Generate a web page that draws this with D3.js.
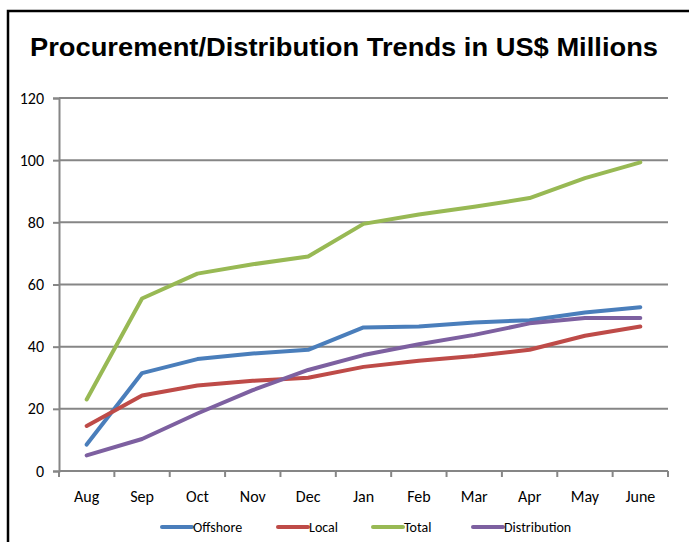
<!DOCTYPE html>
<html><head><meta charset="utf-8">
<script src="https://cdn.jsdelivr.net/npm/d3@7/dist/d3.min.js"></script>
<style>body{margin:0;background:#fff}</style>
</head><body><svg id="c" width="689" height="542"></svg>
<script>
const months = ["Aug","Sep","Oct","Nov","Dec","Jan","Feb","Mar","Apr","May","June"];
const offshore = [8.5,31.5,36,37.8,39,46.2,46.5,47.8,48.5,51,52.7];
const local = [14.5,24.3,27.5,29,30,33.5,35.5,37,39,43.5,46.5];
const total = [23,55.5,63.5,66.5,69,79.5,82.5,85,87.8,94.2,99.3];
const distribution = [5,10.3,18.5,26,32.5,37.3,40.8,43.8,47.5,49.2,49.2];
const yTicks = [0,20,40,60,80,100,120];
const seriesNames = ["Offshore","Local","Total","Distribution"];
const colors = ["#4a7ebb","#be4b48","#98b954","#7d60a0"];
const seriesData = [offshore, local, total, distribution];

const svg = d3.select("#c");
const FONT = "Carlito,Calibri,'Open Sans',sans-serif";
svg.append("path").attr("d","M8,542 V11 H689").attr("fill","none").attr("stroke","#000").attr("stroke-width",2.5);

svg.append("text").attr("x",30).attr("y",56)
  .attr("font-family","'Liberation Sans Narrow','Arial Narrow','Liberation Sans',Arial,sans-serif").attr("font-weight","bold")
  .attr("font-size",26).attr("fill","#000")
  .attr("textLength",628).attr("lengthAdjust","spacingAndGlyphs")
  .text("Procurement/Distribution Trends in US$ Millions");

const L=59,R=668,T=98,B=471;
const x = d3.scaleBand().domain(months).range([L,R]);
const y = d3.scaleLinear().domain([0,120]).range([B,T]);

svg.append("g").selectAll("line").data(yTicks.filter(d=>d>0)).join("line")
  .attr("x1",L).attr("x2",R).attr("y1",d=>y(d)).attr("y2",d=>y(d))
  .attr("stroke","#868686").attr("stroke-width",2);

const ya = svg.append("g").attr("transform",`translate(${L},0)`)
  .call(d3.axisLeft(y).tickValues(yTicks).tickSize(6).tickPadding(9));
ya.attr("font-size",16).attr("font-family",FONT);
ya.select(".domain").attr("stroke","#868686").attr("stroke-width",2);
ya.selectAll(".tick line").attr("stroke","#868686").attr("stroke-width",2);
ya.selectAll(".tick text").style("font-size","16px").style("font-family",FONT).attr("fill","#000");

const xa = svg.append("g").attr("transform",`translate(0,${B})`)
  .call(d3.axisBottom(x).tickSize(0).tickPadding(20));
xa.attr("font-size",16).attr("font-family",FONT);
xa.select(".domain").remove();
xa.append("line").attr("x1",L).attr("x2",R).attr("stroke","#868686").attr("stroke-width",2);
const bounds = months.map(m=>x(m)).concat([R]);
xa.selectAll("line.bt").data(bounds).join("line").attr("class","bt")
  .attr("x1",d=>d).attr("x2",d=>d).attr("y1",0).attr("y2",6).attr("stroke","#868686").attr("stroke-width",2);
xa.selectAll(".tick text").style("font-size","16px").style("font-family",FONT).attr("fill","#000");

const line = d3.line().x((d,i)=>x(months[i])+x.bandwidth()/2).y(d=>y(d));
svg.selectAll("path.s").data(seriesData).join("path").attr("class","s")
  .attr("d",line).attr("fill","none").attr("stroke",(d,i)=>colors[i])
  .attr("stroke-width",4).attr("stroke-linecap","round").attr("stroke-linejoin","round");

const legX = [162,278,373,473];
const lg = svg.selectAll("g.leg").data(seriesNames).join("g").attr("class","leg")
  .attr("transform",(d,i)=>`translate(${legX[i]},527)`);
lg.append("line").attr("x1",0).attr("x2",30).attr("stroke",(d,i)=>colors[i]).attr("stroke-width",4).attr("stroke-linecap","round");
lg.append("text").attr("x",31).attr("y",5).style("font-family",FONT).style("font-size","14px").attr("fill","#000").text(d=>d);
</script></body></html>
